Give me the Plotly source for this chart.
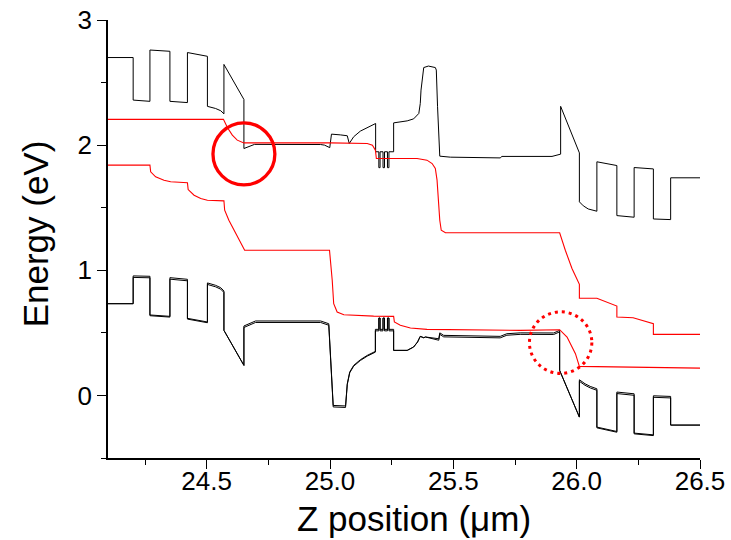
import plotly.graph_objects as go

# ---------------- data ----------------
# Conduction band
cb_x = [24.10, 24.202, 24.202, 24.270, 24.270, 24.351, 24.351, 24.422, 24.422, 24.503,
        24.503, 24.536, 24.557, 24.570, 24.570, 24.651, 24.651, 24.694, 24.962, 24.978,
        24.999, 25.006, 25.042, 25.070, 25.078, 25.096, 25.123, 25.151, 25.185, 25.185,
        25.198, 25.198, 25.203, 25.203, 25.215, 25.215, 25.221, 25.221, 25.233, 25.233,
        25.239, 25.239, 25.258, 25.258, 25.313, 25.339, 25.360, 25.366, 25.369, 25.380,
        25.399, 25.427, 25.431, 25.436, 25.445, 25.488, 25.690, 25.697, 25.900, 25.935,
        25.935, 26.011, 26.011, 26.027, 26.047, 26.082, 26.082, 26.163, 26.163, 26.233,
        26.233, 26.311, 26.311, 26.381, 26.381, 26.50]
cb_y = [2.70, 2.70, 2.36, 2.35, 2.76, 2.75, 2.35, 2.34, 2.74, 2.71,
        2.31, 2.293, 2.275, 2.25, 2.645, 2.365, 1.973, 2.006, 2.005, 2.00,
        1.98, 2.088, 2.082, 2.075, 2.013, 2.067, 2.112, 2.141, 2.173, 1.947,
        1.947, 1.82, 1.82, 1.947, 1.947, 1.82, 1.82, 1.947, 1.947, 1.82,
        1.82, 1.947, 1.947, 2.178, 2.194, 2.21, 2.253, 2.333, 2.44, 2.62,
        2.632, 2.62, 2.60, 2.307, 1.912, 1.904, 1.898, 1.91, 1.91, 1.928,
        2.31, 1.938, 1.547, 1.515, 1.49, 1.472, 1.867, 1.837, 1.437, 1.424,
        1.821, 1.81, 1.41, 1.405, 1.739, 1.739]

# Valence band (two nearly degenerate hole bands)
vb_x = [24.10, 24.202, 24.202, 24.270, 24.270, 24.351, 24.351, 24.422, 24.422, 24.503,
        24.503, 24.536, 24.557, 24.570, 24.570, 24.651, 24.651, 24.698, 24.962, 24.995,
        25.013, 25.063, 25.070, 25.080, 25.096, 25.123, 25.151, 25.184, 25.184, 25.198,
        25.198, 25.203, 25.203, 25.215, 25.215, 25.221, 25.221, 25.233, 25.233, 25.239,
        25.239, 25.258, 25.258, 25.313, 25.339, 25.355, 25.366, 25.380, 25.387, 25.441,
        25.445, 25.461, 25.690, 25.717, 25.771, 25.907, 25.931, 25.931, 26.011, 26.011,
        26.034, 26.055, 26.082, 26.082, 26.163, 26.163, 26.233, 26.233, 26.311, 26.311,
        26.381, 26.381, 26.50]
vb_y = [0.733, 0.733, 0.955, 0.952, 0.643, 0.632, 0.941, 0.928, 0.616, 0.587,
        0.899, 0.88, 0.861, 0.835, 0.52, 0.24, 0.555, 0.595, 0.595, 0.573,
        -0.08, -0.084, 0.093, 0.187, 0.24, 0.285, 0.32, 0.352, 0.528, 0.528,
        0.618, 0.618, 0.528, 0.528, 0.618, 0.618, 0.528, 0.528, 0.618, 0.618,
        0.528, 0.528, 0.36, 0.36, 0.387, 0.427, 0.472, 0.461, 0.467, 0.453,
        0.50, 0.48, 0.472, 0.493, 0.50, 0.499, 0.52, 0.20, -0.173, 0.125,
        0.093, 0.072, 0.053, -0.253, -0.288, 0.027, 0.013, -0.301, -0.315, -0.003,
        -0.008, -0.237, -0.237]
# splitting between the two hole bands at each valence-band point
vb_split = [0.0, 0.0, 0.012, 0.012, 0.006, 0.006, 0.012, 0.012, 0.006, 0.006,
            0.012, 0.012, 0.012, 0.012, 0.0, 0.0, 0.012, 0.012, 0.012, 0.012,
            0.012, 0.012, 0.006, 0.006, 0.006, 0.006, 0.006, 0.006, 0.012, 0.012,
            0.0, 0.0, 0.012, 0.012, 0.0, 0.0, 0.012, 0.012, 0.0, 0.0,
            0.012, 0.012, 0.0, 0.0, 0.0, 0.0, 0.0, 0.0, 0.0, 0.012,
            0.012, 0.012, 0.012, 0.012, 0.012, 0.012, 0.012, 0.0, 0.0, 0.012,
            0.012, 0.012, 0.012, 0.006, 0.006, 0.012, 0.012, 0.006, 0.006, 0.012,
            0.012, 0.0, 0.0]

# Electron quasi-Fermi level
fn_x = [24.10, 24.568, 24.584, 24.604, 24.624, 24.651, 25.002, 25.151, 25.172, 25.184,
        25.188, 25.353, 25.393, 25.414, 25.427, 25.434, 25.445, 25.451, 25.468, 25.931,
        25.954, 25.981, 26.011, 26.011, 26.082, 26.122, 26.163, 26.163, 26.229, 26.311,
        26.311, 26.50]
fn_y = [2.206, 2.206, 2.141, 2.08, 2.04, 2.018, 2.018, 2.013, 2.00, 1.96,
        1.893, 1.893, 1.88, 1.853, 1.813, 1.72, 1.40, 1.32, 1.30, 1.30,
        1.16, 1.014, 0.888, 0.776, 0.776, 0.747, 0.714, 0.626, 0.621, 0.573,
        0.488, 0.488]

# Hole quasi-Fermi level
fp_x = [24.10, 24.270, 24.273, 24.293, 24.327, 24.354, 24.422, 24.425, 24.449, 24.476,
        24.503, 24.570, 24.573, 24.590, 24.654, 24.970, 24.998, 25.009, 25.015, 25.029,
        25.056, 25.177, 25.258, 25.261, 25.285, 25.326, 25.393, 25.771, 25.931, 25.961,
        25.995, 26.011, 26.50]
fp_y = [1.84, 1.84, 1.787, 1.747, 1.72, 1.707, 1.70, 1.645, 1.60, 1.573,
        1.56, 1.555, 1.48, 1.40, 1.16, 1.16, 1.16, 0.92, 0.733, 0.667,
        0.645, 0.634, 0.632, 0.587, 0.56, 0.539, 0.528, 0.52, 0.525, 0.467,
        0.334, 0.232, 0.218]

# highlight circles: (centre x, centre y, radius x, radius y)
circle_solid = (24.651, 1.930, 0.1255, 0.248)
circle_dotted = (25.935, 0.422, 0.1265, 0.246)

x_range = [24.10, 26.50]
y_range = [-0.5, 3.0]
x_title = "Z position (μm)"
y_title = "Energy (eV)"

# ---------------- figure ----------------
FONT = "Liberation Sans, Arial, sans-serif"
fig = go.Figure()

vb2_y = [v - s for v, s in zip(vb_y, vb_split)]
line_black = dict(color="#000000", width=1)
fig.add_trace(go.Scatter(x=cb_x, y=cb_y, mode="lines", line=line_black))
fig.add_trace(go.Scatter(x=vb_x, y=vb_y, mode="lines", line=line_black))
fig.add_trace(go.Scatter(x=vb_x, y=vb2_y, mode="lines", line=line_black))
line_red = dict(color="#ff0000", width=1.1)
fig.add_trace(go.Scatter(x=fn_x, y=fn_y, mode="lines", line=line_red))
fig.add_trace(go.Scatter(x=fp_x, y=fp_y, mode="lines", line=line_red))

cx, cy, rx, ry = circle_solid
fig.add_shape(type="circle", xref="x", yref="y", x0=cx - rx, x1=cx + rx,
              y0=cy - ry, y1=cy + ry, line=dict(color="#ff0000", width=3.3))
cx, cy, rx, ry = circle_dotted
fig.add_shape(type="circle", xref="x", yref="y", x0=cx - rx, x1=cx + rx,
              y0=cy - ry, y1=cy + ry,
              line=dict(color="#ff0000", width=3, dash="3px,4px"))

axis_common = dict(showgrid=False, zeroline=False, showline=True, linecolor="black",
                   linewidth=1.5, ticks="outside", ticklen=9, tickwidth=1.3,
                   tickcolor="black", automargin=False,
                   tickfont=dict(family=FONT, size=26, color="black"))
fig.update_xaxes(range=x_range, dtick=0.5, tick0=24.5, tickformat=".1f",
                 minor=dict(ticks="outside", ticklen=5, dtick=0.25, tick0=24.25,
                            tickwidth=1.3, tickcolor="black"),
                 ticklabelstandoff=-10,
                 **axis_common)
fig.update_yaxes(range=y_range, dtick=1, tick0=0,
                 minor=dict(ticks="outside", ticklen=5, dtick=0.5, tick0=0,
                            tickwidth=1.3, tickcolor="black"),
                 **axis_common)

TITLE_FONT = dict(family=FONT, size=35, color="black")
fig.add_annotation(text=x_title, xref="paper", yref="paper", x=0.517, y=-0.137,
                   xanchor="center", yanchor="middle", showarrow=False, font=TITLE_FONT)
fig.add_annotation(text=y_title, xref="paper", yref="paper", x=-0.123, y=0.511,
                   xanchor="center", yanchor="middle", textangle=-90,
                   showarrow=False, font=TITLE_FONT)

fig.update_layout(width=731, height=540, showlegend=False,
                  margin=dict(l=108, r=31, t=20, b=82),
                  plot_bgcolor="white", paper_bgcolor="white",
                  font=dict(family=FONT))
fig.write_html("out.html")
